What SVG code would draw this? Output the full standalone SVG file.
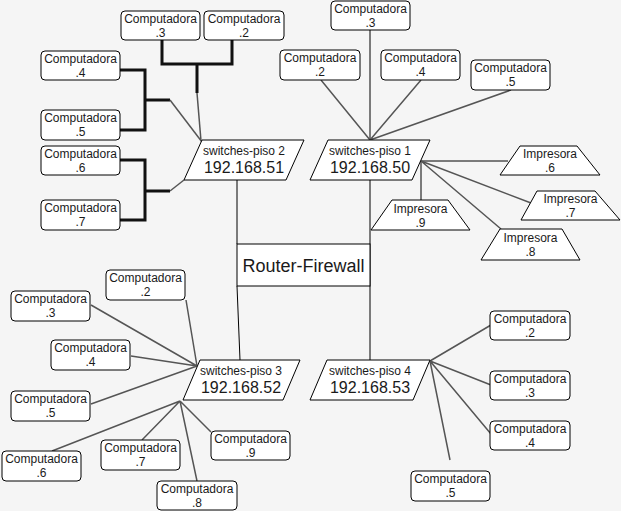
<svg xmlns="http://www.w3.org/2000/svg" width="621" height="511" viewBox="0 0 621 511">
<style>
.box{fill:#fff;stroke:#000;stroke-width:1}
.t{font-family:"Liberation Sans",Arial,sans-serif;font-size:12px;fill:#1a1a1a;text-anchor:middle}
.big{font-size:16px}
.rt{font-size:18px}
.k{stroke:#000;stroke-width:1;fill:none}
.g{stroke:#555;stroke-width:1.5;fill:none}
.th{stroke:#111;stroke-width:3;fill:none}
</style>
<rect x="0" y="0" width="621" height="511" fill="#f5f5f5"/>
<g id="connectors">
  <path class="th" d="M162,40 V64 H232 V40 M197,64 V93"/>
  <path class="g" d="M197,93 L201,141"/>
  <path class="th" d="M120,70 H145 V130 H120 M145,100 H170"/>
  <path class="g" d="M170,100 L202,142"/>
  <path class="th" d="M120,160 H145 V220 H120 M145,191 H170"/>
  <path class="g" d="M170,191 L184,180"/>
  <path class="k" d="M237,180 V244 M237,286 L240,360"/>
  <path class="k" d="M370,180 V360"/>
  <path class="k" d="M370,30 V140"/>
  <path class="g" d="M321,80 L370,140 M421,80 L370,140 M511,90 L370,140"/>
  <path class="k" d="M421,161 H508 M421,161 V200"/>
  <path class="g" d="M421,161 L531,203 M421,161 L501,229"/>
  <path class="g" d="M186,300 L197,366 M91,305 L197,366 M131,356 L197,366 M91,404 L197,366"/>
  <path class="g" d="M52,451 L180,401 M142,440 L180,401 M197,481 L180,401 M211,432 L180,401"/>
  <path class="g" d="M430,361 L491,325 M430,361 L491,385 M430,361 L491,434 M430,361 L450,460"/>
</g>
<g id="router">
  <rect class="box" x="237" y="244" width="133" height="42"/>
  <text class="t rt" x="303.5" y="272">Router-Firewall</text>
</g>
<g id="switch2">
  <polygon class="box" points="202,140 304,140 286,180 184,180"/>
  <text class="t" x="244" y="155">switches-piso 2</text>
  <text class="t big" x="244" y="173">192.168.51</text>
</g>
<g id="switch1">
  <polygon class="box" points="328,140 430,140 412,180 310,180"/>
  <text class="t" x="370" y="155">switches-piso 1</text>
  <text class="t big" x="370" y="173">192.168.50</text>
</g>
<g id="switch3">
  <polygon class="box" points="200,360 300,360 283,400 183,400"/>
  <text class="t" x="241" y="375">switches-piso 3</text>
  <text class="t big" x="241" y="393">192.168.52</text>
</g>
<g id="switch4">
  <polygon class="box" points="327,360 430,360 413,400 310,400"/>
  <text class="t" x="370" y="375">switches-piso 4</text>
  <text class="t big" x="370" y="393">192.168.53</text>
</g>
<g id="p2-comp3"><rect class="box" x="121" y="11" width="79" height="29" rx="4"/><text class="t" x="160.5" y="23">Computadora</text><text class="t" x="160.5" y="37">.3</text></g>
<g id="p2-comp2"><rect class="box" x="204" y="11" width="80" height="29" rx="4"/><text class="t" x="244" y="23">Computadora</text><text class="t" x="244" y="37">.2</text></g>
<g id="p2-comp4"><rect class="box" x="41" y="51" width="79" height="29" rx="4"/><text class="t" x="80.5" y="63">Computadora</text><text class="t" x="80.5" y="77">.4</text></g>
<g id="p2-comp5"><rect class="box" x="41" y="110" width="79" height="30" rx="4"/><text class="t" x="80.5" y="122">Computadora</text><text class="t" x="80.5" y="136">.5</text></g>
<g id="p2-comp6"><rect class="box" x="41" y="146" width="79" height="29" rx="4"/><text class="t" x="80.5" y="158">Computadora</text><text class="t" x="80.5" y="172">.6</text></g>
<g id="p2-comp7"><rect class="box" x="41" y="200" width="79" height="30" rx="4"/><text class="t" x="80.5" y="212">Computadora</text><text class="t" x="80.5" y="226">.7</text></g>
<g id="p1-comp3"><rect class="box" x="331" y="1" width="79" height="29" rx="4"/><text class="t" x="370.5" y="13">Computadora</text><text class="t" x="370.5" y="27">.3</text></g>
<g id="p1-comp2"><rect class="box" x="280" y="50" width="80" height="30" rx="4"/><text class="t" x="320" y="62">Computadora</text><text class="t" x="320" y="76">.2</text></g>
<g id="p1-comp4"><rect class="box" x="381" y="50" width="79" height="30" rx="4"/><text class="t" x="420.5" y="62">Computadora</text><text class="t" x="420.5" y="76">.4</text></g>
<g id="p1-comp5"><rect class="box" x="471" y="60" width="79" height="30" rx="4"/><text class="t" x="510.5" y="72">Computadora</text><text class="t" x="510.5" y="86">.5</text></g>
<g id="p1-imp6"><polygon class="box" points="520,146 577,146 600,175 500,175"/><text class="t" x="550" y="158">Impresora</text><text class="t" x="550" y="172">.6</text></g>
<g id="p1-imp7"><polygon class="box" points="537,191 595,191 620,220 521,220"/><text class="t" x="570.5" y="203">Impresora</text><text class="t" x="570.5" y="217">.7</text></g>
<g id="p1-imp8"><polygon class="box" points="500,229 562,229 580,260 481,260"/><text class="t" x="530.5" y="242">Impresora</text><text class="t" x="530.5" y="256">.8</text></g>
<g id="p1-imp9"><polygon class="box" points="392,200 448,200 470,230 371,230"/><text class="t" x="420.5" y="213">Impresora</text><text class="t" x="420.5" y="227">.9</text></g>
<g id="p3-comp2"><rect class="box" x="106" y="270" width="79" height="30" rx="4"/><text class="t" x="145.5" y="282">Computadora</text><text class="t" x="145.5" y="296">.2</text></g>
<g id="p3-comp3"><rect class="box" x="11" y="291" width="79" height="30" rx="4"/><text class="t" x="50.5" y="303">Computadora</text><text class="t" x="50.5" y="317">.3</text></g>
<g id="p3-comp4"><rect class="box" x="51" y="340" width="79" height="30" rx="4"/><text class="t" x="90.5" y="352">Computadora</text><text class="t" x="90.5" y="366">.4</text></g>
<g id="p3-comp5"><rect class="box" x="11" y="391" width="79" height="30" rx="4"/><text class="t" x="50.5" y="403">Computadora</text><text class="t" x="50.5" y="417">.5</text></g>
<g id="p3-comp6"><rect class="box" x="2" y="451" width="79" height="30" rx="4"/><text class="t" x="41.5" y="463">Computadora</text><text class="t" x="41.5" y="477">.6</text></g>
<g id="p3-comp7"><rect class="box" x="101" y="440" width="79" height="30" rx="4"/><text class="t" x="140.5" y="452">Computadora</text><text class="t" x="140.5" y="466">.7</text></g>
<g id="p3-comp8"><rect class="box" x="157" y="481" width="80" height="29" rx="4"/><text class="t" x="197" y="493">Computadora</text><text class="t" x="197" y="507">.8</text></g>
<g id="p3-comp9"><rect class="box" x="211" y="431" width="79" height="29" rx="4"/><text class="t" x="250.5" y="443">Computadora</text><text class="t" x="250.5" y="457">.9</text></g>
<g id="p4-comp2"><rect class="box" x="490" y="311" width="80" height="29" rx="4"/><text class="t" x="530" y="323">Computadora</text><text class="t" x="530" y="337">.2</text></g>
<g id="p4-comp3"><rect class="box" x="490" y="371" width="80" height="29" rx="4"/><text class="t" x="530" y="383">Computadora</text><text class="t" x="530" y="397">.3</text></g>
<g id="p4-comp4"><rect class="box" x="490" y="421" width="80" height="29" rx="4"/><text class="t" x="530" y="433">Computadora</text><text class="t" x="530" y="447">.4</text></g>
<g id="p4-comp5"><rect class="box" x="411" y="471" width="79" height="30" rx="4"/><text class="t" x="450.5" y="483">Computadora</text><text class="t" x="450.5" y="497">.5</text></g>
</svg>
